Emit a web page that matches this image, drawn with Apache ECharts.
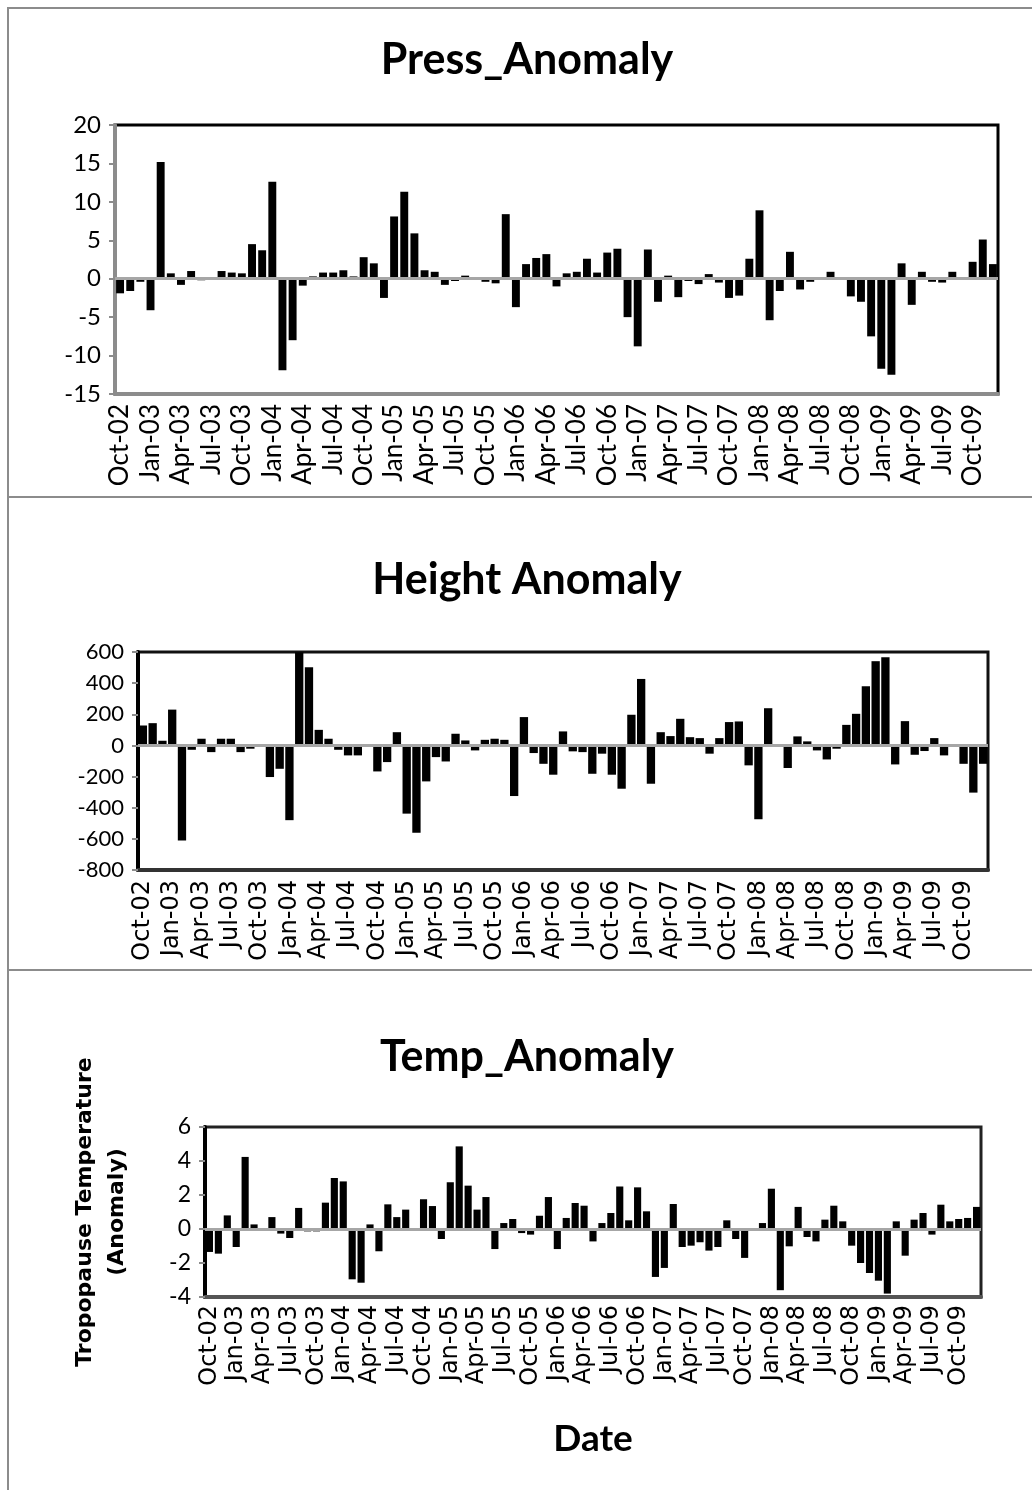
<!DOCTYPE html>
<html>
<head>
<meta charset="utf-8">
<title>Tropopause anomalies</title>
<script src="https://cdn.jsdelivr.net/npm/echarts@6/dist/echarts.min.js"></script>
<style>
  html, body { margin: 0; padding: 0; background: #fff; }
  #chart { width: 1032px; height: 1490px; }
</style>
</head>
<body>
<div id="chart"></div>
<script>
// monthly categories, Oct-02 .. Dec-09
var monthNames = ['Jan','Feb','Mar','Apr','May','Jun','Jul','Aug','Sep','Oct','Nov','Dec'];
var months = [];
for (var y = 2002; y <= 2009; y++) {
  for (var m = 0; m < 12; m++) {
    if (y == 2002 && m < 9) continue;
    months.push(monthNames[m] + '-0' + (y - 2000));
  }
}

var pressAnomaly = [
  -1.9, -1.6, -0.4, -4.1, 15.2, 0.7, -0.8, 1.0, -0.2, -0.1,
  1.0, 0.8, 0.7, 4.5, 3.7, 12.6, -11.9, -8.0, -0.9, 0.3,
  0.8, 0.8, 1.1, 0.3, 2.8, 2.0, -2.5, 8.1, 11.3, 5.9,
  1.1, 0.9, -0.8, -0.3, 0.4, -0.1, -0.4, -0.6, 8.4, -3.7,
  1.9, 2.7, 3.2, -1.0, 0.7, 0.9, 2.6, 0.8, 3.4, 3.9,
  -5.0, -8.8, 3.8, -3.0, 0.4, -2.4, -0.3, -0.7, 0.6, -0.5,
  -2.5, -2.2, 2.6, 8.9, -5.4, -1.6, 3.5, -1.4, -0.4, 0.0,
  0.9, -0.1, -2.3, -3.0, -7.5, -11.7, -12.5, 2.0, -3.4, 0.9,
  -0.4, -0.5, 0.9, 0.1, 2.2, 5.1, 1.9
];
var heightAnomaly = [
  128, 143, 30, 230, -610, -28, 43, -43, 43, 43,
  -43, -21, 0, -203, -150, -480, 598, 502, 100, 43,
  -28, -64, -64, 0, -167, -107, 85, -438, -560, -231,
  -75, -103, 75, 32, -32, 36, 43, 36, -325, 182,
  -49, -118, -188, 90, -38, -43, -182, -53, -188, -278,
  197, 427, -246, 85, 60, 171, 53, 47, -53, 47,
  150, 154, -128, -474, 239, 0, -145, 58, 26, -32,
  -90, -21, 132, 203, 380, 541, 566, -122, 156, -60,
  -36, 47, -64, 0, -118, -303, -118
];
var tempAnomaly = [
  -1.35, -1.45, 0.8, -1.06, 4.24, 0.27, -0.1, 0.7, -0.27, -0.53,
  1.24, -0.14, -0.14, 1.55, 3.0, 2.8, -2.96, -3.16, 0.27, -1.31,
  1.45, 0.7, 1.14, 0.05, 1.75, 1.35, -0.59, 2.75, 4.86, 2.55,
  1.14, 1.88, -1.18, 0.35, 0.59, -0.24, -0.33, 0.78, 1.88, -1.18,
  0.65, 1.53, 1.37, -0.73, 0.35, 0.94, 2.5, 0.51, 2.45, 1.04,
  -2.82, -2.29, 1.47, -1.06, -0.98, -0.78, -1.27, -1.06, 0.51, -0.59,
  -1.7, 0.0, 0.35, 2.37, -3.6, -1.02, 1.3, -0.47, -0.73, 0.55,
  1.37, 0.45, -0.98, -2.0, -2.59, -3.04, -3.8, 0.45, -1.57, 0.55,
  0.94, -0.33, 1.43, 0.45, 0.59, 0.65, 1.3
];

var titles = ['Press_Anomaly', 'Height Anomaly', 'Temp_Anomaly'];

var myChart = echarts.init(document.getElementById('chart'));

function xAx(idx, font, size, lineColor, margin) {
  return {
    type: 'category', gridIndex: idx, data: months,
    axisLine: { onZero: false, lineStyle: { color: lineColor, width: 4 } },
    axisTick: { show: false },
    axisLabel: { interval: 2, rotate: 90, color: '#000', fontFamily: font, fontSize: size, margin: margin }
  };
}
function yAx(idx, min, max, step, lineColor, size) {
  return {
    type: 'value', gridIndex: idx, min: min, max: max, interval: step,
    splitLine: { show: false },
    axisLine: { show: true, lineStyle: { color: lineColor, width: 4 } },
    axisTick: { show: true, length: 6, lineStyle: { color: '#8c8c8c', width: 2 } },
    axisLabel: { color: '#000', fontFamily: 'Lato', fontSize: size, margin: 14 }
  };
}
function barSeries(idx, data, gap) {
  return {
    type: 'bar', xAxisIndex: idx, yAxisIndex: idx, data: data,
    barCategoryGap: gap,
    itemStyle: { color: '#000' },
    markLine: {
      silent: true, symbol: 'none', label: { show: false },
      lineStyle: { color: '#a6a6a6', width: 3, type: 'solid' },
      data: [{ yAxis: 0 }]
    }
  };
}

var option = {
  animation: false,
  backgroundColor: '#fff',
  grid: [
    { left: 115, top: 125, width: 883, height: 269, show: true, borderColor: '#000', borderWidth: 3 },
    { left: 138, top: 652, width: 850, height: 218, show: true, borderColor: '#111', borderWidth: 3 },
    { left: 205, top: 1127, width: 776, height: 170, show: true, borderColor: '#222', borderWidth: 3 }
  ],
  xAxis: [
    xAx(0, 'Lato', 26, '#8c8c8c', 10),
    xAx(1, 'DejaVu Sans', 24, '#333', 10),
    Object.assign(xAx(2, 'DejaVu Sans', 24, '#555', 8), {
      name: 'Date', nameLocation: 'middle', nameGap: 124,
      nameTextStyle: { fontFamily: 'Lato', fontWeight: 'bold', fontSize: 37, color: '#000' }
    })
  ],
  yAxis: [
    yAx(0, -15, 20, 5, '#8c8c8c', 24),
    yAx(1, -800, 600, 200, '#000', 22),
    Object.assign(yAx(2, -4, 6, 2, '#000', 23), {
      name: 'Tropopause Temperature\n(Anomaly)', nameLocation: 'middle', nameRotate: 90, nameGap: 72,
      nameTextStyle: { fontFamily: 'DejaVu Sans', fontWeight: 'bold', fontSize: 22, lineHeight: 32, color: '#000' }
    })
  ],
  series: [
    barSeries(0, pressAnomaly, '22%'),
    barSeries(1, heightAnomaly, '15%'),
    barSeries(2, tempAnomaly, '20%')
  ],
  graphic: [
    { type: 'rect', silent: true, shape: { x: 8, y: 8, width: 1100, height: 1600 },
      style: { fill: null, stroke: '#8c8c8c', lineWidth: 2 } },
    { type: 'line', silent: true, shape: { x1: 8, y1: 497, x2: 1032, y2: 497 },
      style: { stroke: '#8c8c8c', lineWidth: 2 } },
    { type: 'line', silent: true, shape: { x1: 8, y1: 970, x2: 1032, y2: 970 },
      style: { stroke: '#8c8c8c', lineWidth: 2 } },
    { type: 'text', x: 527, y: 60, style: { text: titles[0], fill: '#000', font: 'bold 43px Lato', textAlign: 'center', textVerticalAlign: 'middle' } },
    { type: 'text', x: 527, y: 580, style: { text: titles[1], fill: '#000', font: 'bold 43px Lato', textAlign: 'center', textVerticalAlign: 'middle' } },
    { type: 'text', x: 527, y: 1057, style: { text: titles[2], fill: '#000', font: 'bold 43px Lato', textAlign: 'center', textVerticalAlign: 'middle' } }
  ]
};

myChart.setOption(option);
</script>
</body>
</html>
